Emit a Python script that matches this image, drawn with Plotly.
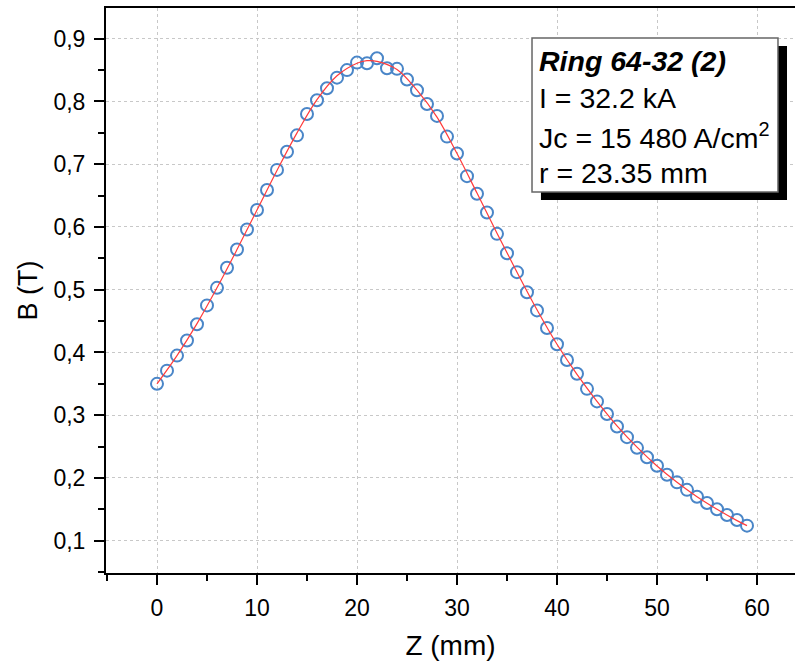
import plotly.graph_objects as go

# Measured data (Z in mm, B in T)
z_data = list(range(60))
b_data = [0.350, 0.371, 0.395, 0.419, 0.445, 0.475, 0.503, 0.535, 0.564, 0.596,
          0.627, 0.659, 0.691, 0.720, 0.746, 0.780, 0.802, 0.821, 0.838, 0.850,
          0.862, 0.861, 0.869, 0.853, 0.852, 0.835, 0.818, 0.796, 0.777, 0.744,
          0.717, 0.681, 0.653, 0.623, 0.589, 0.558, 0.528, 0.496, 0.467, 0.439,
          0.413, 0.388, 0.366, 0.342, 0.322, 0.302, 0.282, 0.265, 0.248, 0.233,
          0.2195, 0.205, 0.193, 0.181, 0.170, 0.160, 0.150, 0.141, 0.133, 0.124]

# Fit curve
z_fit = [0, 2, 4, 6, 8, 10, 12, 14, 16, 18, 20, 21, 22, 24, 26, 28, 30, 32, 34,
         36, 38, 40, 42, 44, 46, 48, 50, 52, 54, 56, 58, 59]
b_fit = [0.350, 0.395, 0.446, 0.503, 0.564, 0.627, 0.690, 0.750, 0.803, 0.841,
         0.861, 0.865, 0.864, 0.851, 0.818, 0.775, 0.717, 0.654, 0.590, 0.528,
         0.468, 0.413, 0.365, 0.322, 0.283, 0.249, 0.219, 0.193, 0.170, 0.150,
         0.132, 0.124]

x_ticks = [0, 10, 20, 30, 40, 50, 60]
y_ticks = [0.1, 0.2, 0.3, 0.4, 0.5, 0.6, 0.7, 0.8, 0.9]
y_ticklabels = ["0,1", "0,2", "0,3", "0,4", "0,5", "0,6", "0,7", "0,8", "0,9"]

info_lines = ["<b><i>Ring 64-32 (2)</i></b>", "I = 32.2 kA",
              "Jc = 15 480 A/cm<sup>2</sup>", "r = 23.35 mm"]

FONT = "Liberation Sans, Arial, sans-serif"

fig = go.Figure()
fig.add_trace(go.Scatter(
    x=z_data, y=b_data, mode="markers",
    marker=dict(symbol="circle-open", size=12, color="#4a86c8",
                line=dict(width=2, color="#4a86c8")),
    showlegend=False))
fig.add_trace(go.Scatter(
    x=z_fit, y=b_fit, mode="lines", line_shape="spline",
    line=dict(color="#ff3b3b", width=1.2), showlegend=False))

# Info box: shadow + white box
fig.add_shape(type="rect", xref="paper", yref="paper",
              x0=0.6313, x1=0.9884, y0=0.6602, y1=0.9327,
              fillcolor="black", line=dict(width=0), layer="above")
fig.add_shape(type="rect", xref="paper", yref="paper",
              x0=0.6183, x1=0.9753, y0=0.6743, y1=0.9469,
              fillcolor="white", line=dict(color="#666666", width=1.5), layer="above")

ys = [0.9062, 0.8407, 0.7735, 0.7080]
for txt, yy in zip(info_lines, ys):
    fig.add_annotation(x=0.6255, y=yy, xref="paper", yref="paper",
                       text=txt, showarrow=False, xanchor="left", yanchor="middle",
                       font=dict(family=FONT, size=28.5, color="black"))

fig.update_layout(
    width=795, height=663,
    margin=dict(l=106, r=0, t=8, b=90),
    paper_bgcolor="white", plot_bgcolor="white",
    font=dict(family=FONT, color="black"),
)
fig.update_xaxes(
    range=[-5.1, 63.8], tickvals=x_ticks, ticks="outside", ticklen=10, tickwidth=2,
    tickcolor="black", showline=True, linecolor="black", linewidth=2, mirror=True,
    showgrid=True, gridcolor="#c8c8c8", griddash="dot", gridwidth=1,
    zeroline=False, tickfont=dict(size=23, family=FONT), ticklabelstandoff=3,
    minor=dict(dtick=5, tick0=-5, ticks="outside", ticklen=6, tickwidth=2,
               tickcolor="black", showgrid=False),
    title=dict(text="Z (mm)", font=dict(size=28, family=FONT), standoff=16),
)
fig.update_yaxes(
    range=[0.0485, 0.949], tickvals=y_ticks, ticktext=y_ticklabels, ticks="outside",
    ticklen=10, tickwidth=2, tickcolor="black", showline=True, linecolor="black",
    linewidth=2, showgrid=True, gridcolor="#c8c8c8", griddash="dot", gridwidth=1,
    zeroline=False, tickfont=dict(size=23, family=FONT), ticklabelstandoff=4,
    minor=dict(dtick=0.05, tick0=0.05, ticks="outside", ticklen=6, tickwidth=2,
               tickcolor="black", showgrid=False),
    title=dict(text="B (T)", font=dict(size=27, family=FONT), standoff=8),
)

fig.write_html("out.html")
